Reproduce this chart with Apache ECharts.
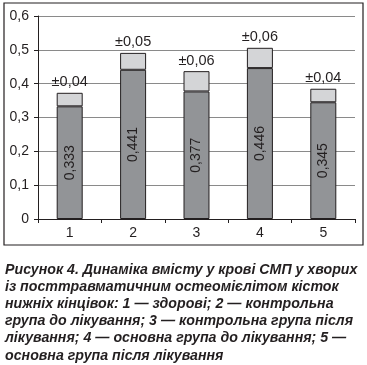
<!DOCTYPE html>
<html><head><meta charset="utf-8">
<script src="https://cdn.jsdelivr.net/npm/echarts@6/dist/echarts.min.js"></script>
<style>html,body{margin:0;padding:0;background:#fff}#c{width:367px;height:365px}</style>
</head><body><div id="c"></div>
<script>
var categories = ['1','2','3','4','5'];
var meanValues = [0.333, 0.441, 0.377, 0.446, 0.345];
var errorValues = [0.04, 0.05, 0.06, 0.06, 0.04];
var yTicks = [0, 0.1, 0.2, 0.3, 0.4, 0.5, 0.6];
var caption = 'Рисунок 4. Динаміка вмісту у крові СМП у хворих\nіз посттравматичним остеомієлітом кісток\nнижніх кінцівок: 1 — здорові; 2 — контрольна\nгрупа до лікування; 3 — контрольна група після\nлікування; 4 — основна група до лікування; 5 —\nосновна група після лікування';

function comma(v){ return String(v).replace('.', ','); }
var font = 'Liberation Sans';
var chart = echarts.init(document.getElementById('c'));
chart.setOption({
  animation: false,
  textStyle: {fontFamily: font},
  title: {
    text: caption, left: 0, top: 256,
    textStyle: {fontFamily: font, fontSize: 14.2, fontWeight: 'bold', fontStyle: 'italic', color: '#231f20', lineHeight: 17.2}
  },
  graphic: [{type: 'rect', shape: {x: 4, y: 3, width: 359, height: 242}, style: {fill: 'none', stroke: '#231f20', lineWidth: 1.2}, silent: true}],
  grid: {left: 38, right: 12, top: 16, bottom: 146, containLabel: false},
  xAxis: {
    type: 'category', data: categories,
    axisLine: {lineStyle: {color: '#231f20', width: 1}},
    axisTick: {show: true, length: 4, lineStyle: {color: '#231f20'}},
    axisLabel: {color: '#231f20', fontSize: 14, margin: 7, fontFamily: font}
  },
  yAxis: {
    type: 'value', min: 0, max: 0.6, interval: 0.1,
    axisLine: {show: true, lineStyle: {color: '#231f20', width: 1}},
    axisTick: {show: true, length: 4, lineStyle: {color: '#231f20'}},
    splitLine: {lineStyle: {color: '#8a8a8a', width: 1}},
    axisLabel: {color: '#231f20', fontSize: 14, margin: 9, fontFamily: font,
      formatter: function(v){ var r = Math.round(v*10)/10; return yTicks.indexOf(r) >= 0 ? comma(r) : ''; }}
  },
  series: [
    {type: 'bar', stack: 's', data: meanValues, barWidth: '41%',
     itemStyle: {color: '#929497', borderColor: '#231f20', borderWidth: 1},
     label: {show: true, position: 'inside', rotate: 90, color: '#231f20', fontSize: 14, fontFamily: font,
       formatter: function(p){ return comma(p.value); }}},
    {type: 'bar', stack: 's', data: errorValues, barWidth: '41%',
     itemStyle: {color: '#d4d5d7', borderColor: '#231f20', borderWidth: 1},
     label: {show: true, position: 'top', distance: 3, color: '#231f20', fontSize: 14.5, fontFamily: font,
       formatter: function(p){ return '±' + comma(p.value); }}}
  ]
});
</script></body></html>
